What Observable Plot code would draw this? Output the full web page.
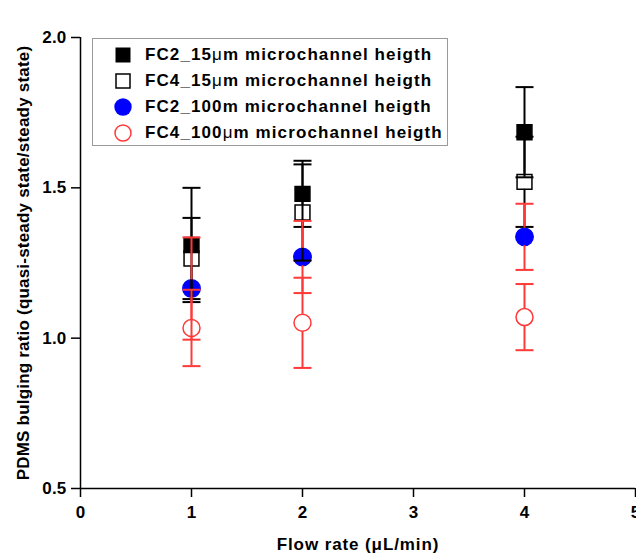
<!DOCTYPE html>
<html>
<head>
<meta charset="utf-8">
<script src="https://cdn.jsdelivr.net/npm/d3@7"></script>
<script src="https://cdn.jsdelivr.net/npm/@observablehq/plot@0.6"></script>
<style>
  html, body { margin: 0; padding: 0; background: #fff; }
  #wrap { position: relative; width: 636px; height: 554px; font-family: "Liberation Sans", Arial, sans-serif; }
  #legend { position: absolute; left: 92px; top: 38px; width: 356px; height: 108px; border: 1.5px solid #9a9a9a; background: #fff; box-sizing: border-box; padding-top: 2.5px; }
  .row { display: flex; align-items: center; height: 26px; font-weight: bold; font-size: 17px; letter-spacing: 1.1px; color: #000; white-space: nowrap; }
  .row svg { margin-left: 21px; margin-right: 13px; flex: none; }
  .mu { font-weight: normal; }
</style>
</head>
<body>
<div id="wrap"></div>
<script>
// ---- data ----
const flowRate = [1, 2, 4];
const seriesNames = [
  "FC2_15μm microchannel heigth",
  "FC4_15μm microchannel heigth",
  "FC2_100m microchannel heigth",
  "FC4_100μm microchannel heigth"
];
const fc2_15 = [1.31, 1.48, 1.685];
const fc2_15Err = [0.19, 0.11, 0.15];
const fc4_15 = [1.265, 1.418, 1.52];
const fc4_15Err = [0.135, 0.16, 0.15];
const fc2_100 = [1.165, 1.27, 1.337];
const fc2_100Err = [0.17, 0.12, 0.11];
const fc4_100 = [1.034, 1.051, 1.07];
const fc4_100Err = [0.127, 0.15, 0.11];
const xTicks = [0, 1, 2, 3, 4, 5];
const yTicks = [0.5, 1.0, 1.5, 2.0];

const RED = "#ff3838";
const BLUE = "#0000ff";

function rows(vals, errs) {
  return flowRate.map((x, i) => ({x, y: vals[i], low: vals[i] - errs[i], high: vals[i] + errs[i]}));
}
const dFC2_15 = rows(fc2_15, fc2_15Err);
const dFC4_15 = rows(fc4_15, fc4_15Err);
const dFC2_100 = rows(fc2_100, fc2_100Err);
const dFC4_100 = rows(fc4_100, fc4_100Err);

// horizontal cap symbol
const capSymbol = {
  draw(ctx, size) {
    const w = Math.sqrt(size / Math.PI);
    ctx.moveTo(-w, 0);
    ctx.lineTo(w, 0);
  }
};

function errorBars(data, color, gap) {
  return [
    Plot.ruleX(data, {x: "x", y1: "high", y2: "y", insetBottom: gap, stroke: color, strokeWidth: 2}),
    Plot.ruleX(data, {x: "x", y1: "y", y2: "low", insetTop: gap, stroke: color, strokeWidth: 2}),
    Plot.dot(data, {x: "x", y: "high", symbol: capSymbol, r: 9, stroke: color, strokeWidth: 2, fill: "none"}),
    Plot.dot(data, {x: "x", y: "low", symbol: capSymbol, r: 9, stroke: color, strokeWidth: 2, fill: "none"})
  ];
}

const chart = Plot.plot({
  width: 636,
  height: 554,
  marginLeft: 80,
  marginRight: 1,
  marginTop: 37,
  marginBottom: 66,
  style: {fontFamily: "'Liberation Sans', Arial, sans-serif", fontWeight: "bold", fontSize: "17px", letterSpacing: "0.2px", color: "#000", background: "#fff"},
  x: {domain: [0, 5]},
  y: {domain: [0.5, 2.0]},
  marks: [
    Plot.ruleX([0], {stroke: "#000", strokeWidth: 1.5}),
    Plot.ruleY([0.5], {stroke: "#000", strokeWidth: 1.5}),
    Plot.axisX({ticks: xTicks, tickFormat: d => String(d), tickSize: 9, tickPadding: 8, strokeWidth: 1.5,
      label: "Flow rate (μL/min)", labelAnchor: "center", labelArrow: "none", labelOffset: 61, fontSize: 17}),
    Plot.axisY({ticks: yTicks, tickFormat: d => d.toFixed(1), tickSize: 9, tickPadding: 5, strokeWidth: 1.5,
      label: "PDMS bulging ratio (quasi-steady state/steady state)", labelAnchor: "center", labelArrow: "none", labelOffset: 64, fontSize: 17}),
    Plot.dot(dFC2_100, {x: "x", y: "y", r: 8.7, fill: BLUE, stroke: BLUE}),
    Plot.dot(dFC4_15, {x: "x", y: "y", symbol: "square", r: 8.4, fill: "#fff", stroke: "#000", strokeWidth: 1.5}),
    Plot.dot(dFC2_15, {x: "x", y: "y", symbol: "square", r: 8.4, fill: "#000", stroke: "#000"}),
    Plot.dot(dFC4_100, {x: "x", y: "y", r: 8.5, fill: "#fff", stroke: RED, strokeWidth: 1.5}),
    ...errorBars(dFC2_15, "#000", 7.5),
    ...errorBars(dFC4_15, "#000", 7.5),
    ...errorBars(dFC2_100, RED, 8.7),
    ...errorBars(dFC4_100, RED, 8.5)
  ]
});

const wrap = document.getElementById("wrap");
wrap.appendChild(chart);
const xl = chart.querySelector('[aria-label="x-axis label"]');
if (xl) xl.style.letterSpacing = "0.9px";

// legend
const legendSymbols = [
  '<svg width="18" height="18"><rect x="1.5" y="1.5" width="15" height="15" fill="#000"/></svg>',
  '<svg width="18" height="18"><rect x="2" y="2" width="14" height="14" fill="#fff" stroke="#000" stroke-width="1.5"/></svg>',
  '<svg width="18" height="18"><circle cx="9" cy="9" r="8.7" fill="' + BLUE + '"/></svg>',
  '<svg width="18" height="18"><circle cx="9" cy="9" r="8" fill="#fff" stroke="' + RED + '" stroke-width="1.5"/></svg>'
];
const legend = document.createElement("div");
legend.id = "legend";
seriesNames.forEach((name, i) => {
  const row = document.createElement("div");
  row.className = "row";
  const label = name.replace("μ", '<span class="mu">μ</span>');
  row.innerHTML = legendSymbols[i] + "<span>" + label + "</span>";
  legend.appendChild(row);
});
wrap.appendChild(legend);
</script>
</body>
</html>
